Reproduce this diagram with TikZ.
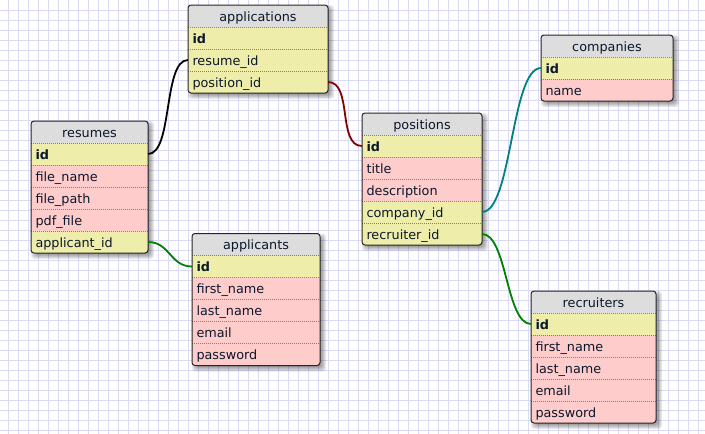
\documentclass[tikz,border=0pt]{standalone}
\usepackage{fontspec}
\setmainfont{DejaVu Sans}

\definecolor{gridline}{RGB}{218,218,244}
\definecolor{hdrfill}{RGB}{221,221,221}
\definecolor{keyfill}{RGB}{238,238,170}
\definecolor{attrfill}{RGB}{255,204,204}
\definecolor{ink}{RGB}{12,24,44}
\definecolor{relred}{RGB}{128,0,0}
\definecolor{relteal}{RGB}{0,128,128}
\definecolor{relgreen}{RGB}{0,128,0}

\tikzset{
  cell/.style={anchor=north west, minimum height=22pt, inner xsep=4.5pt,
    inner ysep=0pt, outer sep=0pt, text=ink, text height=13pt, text depth=2.5pt,
    font=\fontsize{12.8pt}{15pt}\selectfont, align=left},
  titlecell/.style={cell, fill=hdrfill, align=center},
  keycell/.style={cell, fill=keyfill},
  attrcell/.style={cell, fill=attrfill},
  rowsep/.style={draw=black!50, line width=0.8pt, dash pattern=on 1pt off 1pt},
  frame/.style={draw=black!85, line width=1pt, rounded corners=3pt},
  shade/.style={fill=black, opacity=0.08, rounded corners=3pt},
  rel/.style={line width=1.8pt},
}

% \erdtable{prefix}{x}{y}{width}{number of fields}{title}{style/name/text,...}
\newcommand\erdtable[7]{%
  \pgfmathsetmacro\erdxb{#2+#4}%
  \pgfmathsetmacro\erdyb{#3+22*(#5+1)}%
  \pgfmathsetmacro\erdtw{#4-9}%
  \foreach \e in {-2,...,3}
    \fill[shade] ({#2+3-\e},{#3+3-\e}) rectangle ({\erdxb+3+\e},{\erdyb+3+\e});
  \begin{scope}
    \clip[rounded corners=3pt] (#2,#3) rectangle (\erdxb,\erdyb);
    \node[titlecell, text width=\erdtw pt] (#1-title) at (#2,#3) {#6};
    \foreach \sty/\nm/\txt [count=\i] in {#7} {
      \pgfmathsetmacro\yy{#3+22*\i}
      \node[\sty, text width=\erdtw pt] (#1-\nm) at (#2,\yy) {\txt};
      \draw[rowsep] (#2,\yy) -- (\erdxb,\yy);
    }
  \end{scope}
  \draw[frame] (#2,#3) rectangle (\erdxb,\erdyb);
}

\begin{document}
\begin{tikzpicture}[x=1pt,y=-1pt]
  \useasboundingbox (0,0) rectangle (705,434);
  \fill[white] (0,0) rectangle (705,434);

  % background grid
  \foreach \gx in {8,18,...,698}
    \draw[gridline, line width=1pt] (\gx,0) -- (\gx,434);
  \foreach \gy in {10,20,...,430}
    \draw[gridline, line width=1pt] (0,\gy) -- (705,\gy);

  % tables
  \erdtable{applications}{188}{5}{140}{3}{applications}{%
    keycell/id/\textbf{id},
    keycell/resume/resume\_id,
    keycell/position/position\_id}

  \erdtable{resumes}{31}{121}{117}{5}{resumes}{%
    keycell/id/\textbf{id},
    attrcell/fname/file\_name,
    attrcell/fpath/file\_path,
    attrcell/pdf/pdf\_file,
    keycell/applicant/applicant\_id}

  \erdtable{positions}{362}{113}{120}{5}{positions}{%
    keycell/id/\textbf{id},
    attrcell/title/title,
    attrcell/desc/description,
    keycell/company/company\_id,
    keycell/recruiter/recruiter\_id}

  \erdtable{companies}{541}{35}{132}{2}{companies}{%
    keycell/id/\textbf{id},
    attrcell/name/name}

  \erdtable{applicants}{192}{233.5}{128}{5}{applicants}{%
    keycell/id/\textbf{id},
    attrcell/first/first\_name,
    attrcell/last/last\_name,
    attrcell/email/email,
    attrcell/pass/password}

  \erdtable{recruiters}{531}{291}{125}{5}{recruiters}{%
    keycell/id/\textbf{id},
    attrcell/first/first\_name,
    attrcell/last/last\_name,
    attrcell/email/email,
    attrcell/pass/password}

  % relations
  \draw[rel, black] (resumes-id.east) .. controls +(25,0) and +(-25,0) .. (applications-resume.west);
  \draw[rel, relred] (applications-position.east) .. controls +(25,0) and +(-25,0) .. (positions-id.west);
  \draw[rel, relteal] (positions-company.east) .. controls +(30,0) and +(-30,0) .. (companies-id.west);
  \draw[rel, relgreen] (resumes-applicant.east) .. controls +(22,0) and +(-22,0) .. (applicants-id.west);
  \draw[rel, relgreen] (positions-recruiter.east) .. controls +(25,0) and +(-25,0) .. (recruiters-id.west);
\end{tikzpicture}
\end{document}
